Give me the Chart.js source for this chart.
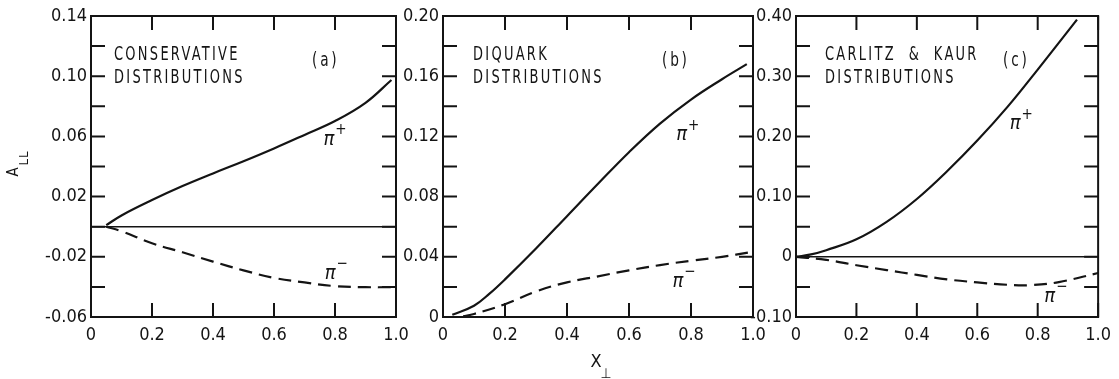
<!DOCTYPE html>
<html lang="en">
<head>
    <meta charset="UTF-8">
    <title>A_LL vs x_perp</title>
    <script src="https://cdn.jsdelivr.net/npm/chart.js"></script>
    <style>
        body { margin: 0; background: #fff; }
        #wrap { position: relative; width: 1119px; height: 379px; }
        #wrap canvas { position: absolute; left: 0; top: 0; }
    </style>
</head>
<body>
<div id="wrap">
    <canvas id="panelA" width="1119" height="379"></canvas>
    <canvas id="panelB" width="1119" height="379"></canvas>
    <canvas id="panelC" width="1119" height="379"></canvas>
</div>

<script>
    // x axis, shared by all three panels
    const xTickValues = [0, 0.2, 0.4, 0.6, 0.8, 1.0];

    // (a) conservative distributions
    const aPlusX  = [0.05, 0.1, 0.2, 0.3, 0.4, 0.5, 0.6, 0.7, 0.8, 0.9, 0.985];
    const aPlusY  = [0.001, 0.0075, 0.0177, 0.027, 0.0354, 0.0435, 0.052, 0.061, 0.0702, 0.0823, 0.0975];
    const aMinusX = [0.05, 0.1, 0.2, 0.3, 0.4, 0.5, 0.6, 0.7, 0.8, 0.9, 0.985];
    const aMinusY = [0, -0.003, -0.011, -0.017, -0.0232, -0.029, -0.034, -0.037, -0.0395, -0.0402, -0.0402];
    const aYLabels = [-0.06, -0.02, 0.02, 0.06, 0.10, 0.14];

    // (b) diquark distributions
    const bPlusX  = [0.03, 0.1, 0.15, 0.2, 0.3, 0.4, 0.5, 0.6, 0.7, 0.8, 0.9, 0.98];
    const bPlusY  = [0.0015, 0.0075, 0.0155, 0.025, 0.0455, 0.067, 0.0885, 0.1095, 0.1285, 0.1445, 0.158, 0.168];
    const bMinusX = [0.065, 0.1, 0.2, 0.3, 0.4, 0.5, 0.6, 0.7, 0.8, 0.9, 0.99];
    const bMinusY = [0.0004, 0.002, 0.0085, 0.017, 0.023, 0.027, 0.031, 0.0345, 0.0374, 0.040, 0.043];
    const bYLabels = [0, 0.04, 0.08, 0.12, 0.16, 0.20];

    // (c) Carlitz & Kaur distributions
    const cPlusX  = [0, 0.05, 0.1, 0.2, 0.3, 0.4, 0.5, 0.6, 0.7, 0.8, 0.93];
    const cPlusY  = [0, 0.004, 0.011, 0.029, 0.058, 0.096, 0.142, 0.193, 0.249, 0.311, 0.394];
    const cMinusX = [0, 0.1, 0.2, 0.3, 0.4, 0.5, 0.6, 0.7, 0.78, 0.87, 1.0];
    const cMinusY = [0, -0.005, -0.014, -0.022, -0.030, -0.0375, -0.0425, -0.0465, -0.047, -0.042, -0.027];
    const cYLabels = [-0.10, 0, 0.10, 0.20, 0.30, 0.40];

    const INK = '#141414';
    const FONT = "'DejaVu Sans Condensed', 'Liberation Sans Narrow', 'DejaVu Sans', sans-serif";

    const toPoints = (xs, ys) => xs.map((x, i) => ({ x: x, y: ys[i] }));
    const near = (a, b) => Math.abs(a - b) < 1e-6;

    // squeezed lettering, like the stencilled labels of the original
    function drawText(ctx, txt, x, y, size, sx, spacing) {
        ctx.save();
        ctx.translate(x, y);
        ctx.scale(sx, 1);
        ctx.font = size + 'px ' + FONT;
        ctx.letterSpacing = spacing + 'px';
        ctx.fillText(txt, 0, 0);
        ctx.restore();
    }

    function drawPi(ctx, x, y, sign) {
        ctx.save();
        ctx.textBaseline = 'middle';
        ctx.textAlign = 'center';
        ctx.font = 'italic 20px ' + FONT;
        ctx.fillText('\u03c0', x, y);
        ctx.font = '15px ' + FONT;
        ctx.fillText(sign, x + 12, y - 9);
        ctx.restore();
    }

    // frame, inward ticks on all sides, zero line, notes
    const framePlugin = {
        id: 'frame',
        afterDatasetsDraw(chart, args, opts) {
            const ctx = chart.ctx;
            const { left, right, top, bottom } = chart.chartArea;
            const xs = chart.scales.x, ys = chart.scales.y;
            ctx.save();
            ctx.strokeStyle = INK;
            ctx.fillStyle = INK;
            ctx.lineWidth = 2;
            ctx.setLineDash([]);
            ctx.strokeRect(left, top, right - left, bottom - top);

            const tl = 14;
            ctx.beginPath();
            opts.yTicks.forEach(v => {
                const py = ys.getPixelForValue(v);
                ctx.moveTo(left, py); ctx.lineTo(left + tl, py);
                ctx.moveTo(right, py); ctx.lineTo(right - tl, py);
            });
            xTickValues.forEach(v => {
                const px = xs.getPixelForValue(v);
                ctx.moveTo(px, bottom); ctx.lineTo(px, bottom - tl);
                ctx.moveTo(px, top); ctx.lineTo(px, top + tl);
            });
            ctx.stroke();

            if (opts.zeroLine) {
                ctx.lineWidth = 1.6;
                const p0 = ys.getPixelForValue(0);
                ctx.beginPath();
                ctx.moveTo(left, p0); ctx.lineTo(right, p0);
                ctx.stroke();
            }

            ctx.textBaseline = 'middle';
            ctx.textAlign = 'left';
            drawText(ctx, opts.line1, left + opts.noteDx, top + 39, 19, 0.76, 3);
            drawText(ctx, 'DISTRIBUTIONS', left + opts.noteDx, top + 62, 19, 0.76, 3);
            drawText(ctx, opts.tag, left + opts.tagDx, top + 45, 19, 0.8, 3.5);

            drawPi(ctx, xs.getPixelForValue(opts.plus[0]), ys.getPixelForValue(opts.plus[1]), '+');
            drawPi(ctx, xs.getPixelForValue(opts.minus[0]), ys.getPixelForValue(opts.minus[1]), '\u2212');

            if (opts.yTitle) {
                ctx.save();
                ctx.translate(14, 172);
                ctx.rotate(-Math.PI / 2);
                ctx.textAlign = 'center';
                ctx.font = '15px ' + FONT;
                ctx.fillText('A', 0, 0);
                ctx.font = '13px ' + FONT;
                ctx.letterSpacing = '1px';
                ctx.fillText('LL', 14, 11);
                ctx.restore();
            }
            if (opts.xTitle) {
                ctx.textAlign = 'center';
                ctx.font = '18px ' + FONT;
                ctx.fillText('X', 596, 362);
                ctx.font = '14px ' + FONT;
                ctx.fillText('\u22a5', 606, 374);
            }
            ctx.restore();
        }
    };

    function makePanel(id, p) {
        const lineStyle = { borderColor: INK, borderWidth: 2.2, pointRadius: 0, tension: 0.4, fill: false };
        new Chart(document.getElementById(id), {
            type: 'line',
            data: {
                datasets: [
                    Object.assign({ label: '\u03c0+', data: toPoints(p.plusX, p.plusY) }, lineStyle),
                    Object.assign({ label: '\u03c0\u2212', data: toPoints(p.minusX, p.minusY), borderDash: [13, 7] }, lineStyle)
                ]
            },
            options: {
                responsive: false,
                animation: false,
                events: [],
                layout: { padding: { left: p.padLeft, right: p.padRight, top: 16, bottom: 30 } },
                plugins: {
                    legend: { display: false },
                    tooltip: { enabled: false },
                    frame: p.frame
                },
                scales: {
                    x: {
                        type: 'linear', min: 0, max: 1,
                        grid: { display: false, drawTicks: false },
                        border: { display: false },
                        ticks: {
                            stepSize: 0.2, padding: 8, maxRotation: 0, autoSkip: false,
                            color: INK, font: { family: FONT, size: 18 },
                            callback: v => v === 0 ? '0' : v.toFixed(1)
                        },
                        afterFit: s => { s.height = 32; }
                    },
                    y: {
                        min: p.yMin, max: p.yMax,
                        grid: { display: false, drawTicks: false },
                        border: { display: false },
                        ticks: {
                            stepSize: p.yStep, padding: 4, autoSkip: false,
                            color: INK, font: { family: FONT, size: 18 },
                            callback: v => p.yLabels.some(l => near(l, v)) ? (near(v, 0) ? '0' : v.toFixed(2)) : ''
                        },
                        afterFit: s => { s.width = p.yWidth; }
                    }
                }
            },
            plugins: [framePlugin]
        });
    }

    makePanel('panelA', {
        plusX: aPlusX, plusY: aPlusY, minusX: aMinusX, minusY: aMinusY,
        yMin: -0.06, yMax: 0.14, yStep: 0.02, yLabels: aYLabels,
        padLeft: 0, yWidth: 91, padRight: 1119 - 396,
        frame: {
            yTicks: [-0.04, -0.02, 0, 0.02, 0.04, 0.06, 0.08, 0.10, 0.12],
            zeroLine: true, line1: 'CONSERVATIVE', noteDx: 23, tag: '(a)', tagDx: 221,
            plus: [0.78, 0.058], minus: [0.784, -0.031], yTitle: true
        }
    });

    makePanel('panelB', {
        plusX: bPlusX, plusY: bPlusY, minusX: bMinusX, minusY: bMinusY,
        yMin: 0, yMax: 0.20, yStep: 0.02, yLabels: bYLabels,
        padLeft: 380, yWidth: 63, padRight: 1119 - 753,
        frame: {
            yTicks: [0.02, 0.04, 0.06, 0.08, 0.10, 0.12, 0.14, 0.16, 0.18],
            zeroLine: false, line1: 'DIQUARK', noteDx: 30, tag: '(b)', tagDx: 219,
            plus: [0.77, 0.121], minus: [0.758, 0.0236], xTitle: true
        }
    });

    makePanel('panelC', {
        plusX: cPlusX, plusY: cPlusY, minusX: cMinusX, minusY: cMinusY,
        yMin: -0.10, yMax: 0.40, yStep: 0.05, yLabels: cYLabels,
        padLeft: 735, yWidth: 61, padRight: 1119 - 1102,
        frame: {
            yTicks: [-0.05, 0, 0.05, 0.10, 0.15, 0.20, 0.25, 0.30, 0.35],
            zeroLine: true, line1: 'CARLITZ  &  KAUR', noteDx: 29, tag: '(c)', tagDx: 207,
            plus: [0.725, 0.221], minus: [0.84, -0.066]
        }
    });
</script>
</body>
</html>
